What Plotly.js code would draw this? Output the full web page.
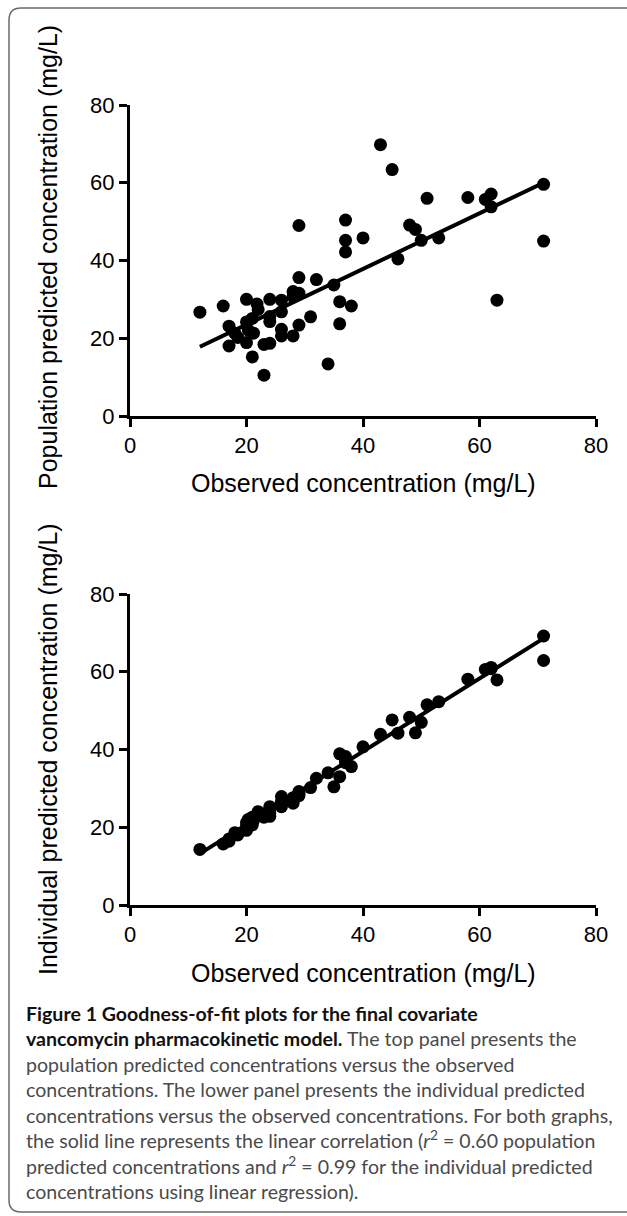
<!DOCTYPE html>
<html>
<head>
<meta charset="utf-8">
<script src="https://cdn.plot.ly/plotly-3.0.1.min.js"></script>
<style>
  html, body { margin: 0; padding: 0; background: #ffffff; }
  #chart { width: 627px; height: 1216px; }
</style>
</head>
<body>
<div id="chart"></div>
<script>
// ---- data ----
const observedConc = [12, 16, 17, 17, 18, 18.5, 20, 20, 20, 20.3, 21, 21, 21.8, 22, 21.2, 23, 23, 24, 24, 24, 24,
  26, 26, 26, 26, 28, 28, 28, 29, 29, 29, 29, 31, 32, 34, 35, 36, 36, 37, 37, 37, 38, 40, 43, 45, 46, 48, 49, 50,
  51, 53, 58, 61, 62, 62, 63, 71, 71];
const populationPred = [26.7, 28.3, 23.1, 18.0, 21.3, 20.2, 30.0, 24.2, 18.9, 22.1, 25.1, 15.2, 28.8, 27.4, 21.3, 10.5, 18.4, 18.7, 30.0, 24.3, 25.6,
  29.8, 26.8, 22.3, 20.6, 32.0, 30.7, 20.6, 35.6, 31.6, 23.4, 49.0, 25.5, 35.1, 13.4, 33.7, 29.4, 23.7, 50.4, 45.2, 42.2, 28.3, 45.8, 69.8, 63.4, 40.4, 49.1, 48.0, 45.2,
  56.0, 45.8, 56.2, 55.7, 57.1, 53.8, 29.8, 59.6, 45.0];
const individualPred = [14.3, 15.7, 16.4, 17.0, 18.6, 18.0, 19.2, 21.2, 20.2, 22.0, 22.6, 20.6, 23.3, 24.0, 21.8, 22.6, 23.3, 24.6, 22.8, 23.6, 25.3,
  27.9, 26.6, 25.3, 26.0, 27.6, 26.2, 27.0, 28.8, 29.2, 28.1, 28.6, 30.2, 32.6, 34.0, 30.4, 33.0, 38.9, 37.3, 36.6, 38.2, 35.6, 40.7, 43.9, 47.6, 44.2, 48.3, 44.3, 47.0,
  51.5, 52.3, 58.1, 60.6, 61.1, 60.8, 57.9, 69.2, 62.9];
const fitX = [12, 71];
const populationFitY = [17.8, 60.0];
const individualFitY = [13.2, 68.6];
const tickValues = [0, 20, 40, 60, 80];
const tickLabels = ['0', '20', '40', '60', '80'];
const xTitle = 'Observed concentration (mg/L)';
const yTitleTop = 'Population predicted concentration (mg/L)';
const yTitleBottom = 'Individual predicted concentration (mg/L)';
const captionLines = [
  '<b>Figure 1 Goodness-of-fit plots for the final covariate</b>',
  '<b>vancomycin pharmacokinetic model.</b> The top panel presents the',
  'population predicted concentrations versus the observed',
  'concentrations. The lower panel presents the individual predicted',
  'concentrations versus the observed concentrations. For both graphs,',
  'the solid line represents the linear correlation (<i>r</i><sup>2</sup> = 0.60 population',
  'predicted concentrations and <i>r</i><sup>2</sup> = 0.99 for the individual predicted',
  'concentrations using linear regression).'
];

// ---- layout helpers (pixel -> paper) ----
const W = 627, H = 1216;
const px = x => x / W;
const py = y => 1 - y / H;

const FONT = '"Liberation Sans", Arial, Helvetica, sans-serif';
const CAP_FONT = 'Lato, "Open Sans", sans-serif';

// fit caption font so that the widest line spans ~588 px
function captionSize() {
  const ctx = document.createElement('canvas').getContext('2d');
  ctx.font = '100px Lato';
  const w = ctx.measureText(captionLines[4]).width;
  return Math.max(14, Math.min(24, 100 * 588 / w));
}
const capSize = captionSize();

const markerStyle = { color: '#000000', size: 13, symbol: 'circle' };
const lineStyle = { color: '#000000', width: 4 };

const traces = [
  { type: 'scatter', mode: 'markers', x: observedConc, y: populationPred, xaxis: 'x', yaxis: 'y', marker: markerStyle, showlegend: false, hoverinfo: 'x+y' },
  { type: 'scatter', mode: 'lines', x: fitX, y: populationFitY, xaxis: 'x', yaxis: 'y', line: lineStyle, showlegend: false, hoverinfo: 'skip' },
  { type: 'scatter', mode: 'markers', x: observedConc, y: individualPred, xaxis: 'x2', yaxis: 'y2', marker: markerStyle, showlegend: false, hoverinfo: 'x+y' },
  { type: 'scatter', mode: 'lines', x: fitX, y: individualFitY, xaxis: 'x2', yaxis: 'y2', line: lineStyle, showlegend: false, hoverinfo: 'skip' }
];

function axisBase() {
  return {
    range: [0, 80], autorange: false,
    showline: true, linewidth: 3, linecolor: '#000000',
    ticks: 'outside', ticklen: 8, tickwidth: 3, tickcolor: '#000000',
    tickmode: 'array', tickvals: tickValues, ticktext: tickLabels,
    tickfont: { family: FONT, size: 22, color: '#000000' },
    showgrid: false, zeroline: false, fixedrange: true
  };
}

const xDomain = [px(130), px(596)];
const layout = {
  width: W, height: H,
  margin: { l: 0, r: 0, t: 0, b: 0, pad: 0 },
  paper_bgcolor: '#ffffff', plot_bgcolor: 'rgba(0,0,0,0)',
  showlegend: false,
  font: { family: FONT, color: '#000000' },
  xaxis: Object.assign(axisBase(), { domain: xDomain, anchor: 'y' }),
  yaxis: Object.assign(axisBase(), { domain: [py(416), py(105)], anchor: 'x' }),
  xaxis2: Object.assign(axisBase(), { domain: xDomain, anchor: 'y2' }),
  yaxis2: Object.assign(axisBase(), { domain: [py(905), py(594)], anchor: 'x2' }),
  shapes: [{
    type: 'path', xref: 'paper', yref: 'paper', layer: 'below',
    path: 'M ' + px(640) + ',' + py(8) + ' L ' + px(21) + ',' + py(8) +
          ' Q ' + px(9) + ',' + py(8) + ' ' + px(9) + ',' + py(20) +
          ' L ' + px(9) + ',' + py(1200) +
          ' Q ' + px(9) + ',' + py(1212) + ' ' + px(21) + ',' + py(1212) +
          ' L ' + px(640) + ',' + py(1212),
    line: { color: '#6a6a6a', width: 1.5 }
  }],
  annotations: [
    { xref: 'paper', yref: 'paper', x: px(363), y: py(483), xanchor: 'center', yanchor: 'middle', showarrow: false,
      text: xTitle, font: { family: FONT, size: 25, color: '#000000' } },
    { xref: 'paper', yref: 'paper', x: px(363), y: py(973), xanchor: 'center', yanchor: 'middle', showarrow: false,
      text: xTitle, font: { family: FONT, size: 25, color: '#000000' } },
    { xref: 'paper', yref: 'paper', x: px(48), y: py(257), xanchor: 'center', yanchor: 'middle', showarrow: false, textangle: -90,
      text: yTitleTop, font: { family: FONT, size: 25, color: '#000000' } },
    { xref: 'paper', yref: 'paper', x: px(48), y: py(749), xanchor: 'center', yanchor: 'middle', showarrow: false, textangle: -90,
      text: yTitleBottom, font: { family: FONT, size: 25, color: '#000000' } },
    { xref: 'paper', yref: 'paper', x: px(24), y: py(1000), xanchor: 'left', yanchor: 'top', align: 'left', showarrow: false,
      text: captionLines.map(l => l.replace(/<b>/g, '<b><span style="color:#111111">').replace(/<\/b>/g, '</span></b>')).join('<br>'),
      font: { family: CAP_FONT, size: capSize, color: '#4a4a4a' } }
  ]
};

Plotly.newPlot('chart', traces, layout, { displayModeBar: false, staticPlot: true });
</script>
</body>
</html>
